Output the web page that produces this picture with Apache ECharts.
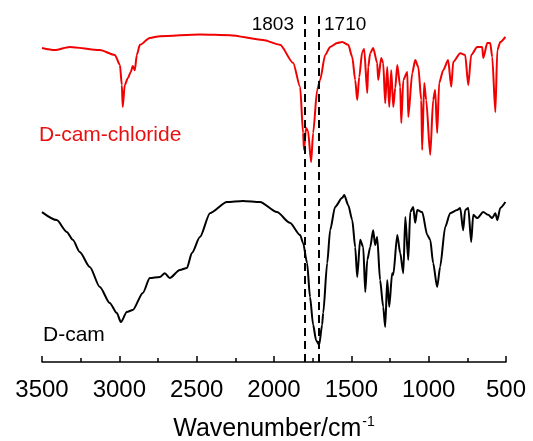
<!DOCTYPE html>
<html>
<head>
<meta charset="utf-8">
<script src="https://cdn.jsdelivr.net/npm/echarts@6/dist/echarts.min.js"></script>
<style>html,body{margin:0;padding:0;background:#fff}#c{width:533px;height:441px}</style>
</head>
<body>
<div id="c"></div>
<script>
// Wavenumber (cm^-1) and offset transmittance (arbitrary units)
var chlorideWn = [3500,3418,3321,3126,3029,2996,2984,2978,2965,2945,2926,2913,2900,2887,2867,2803,2738,2479,2285,2071,1961,1876,1831,1812,1806,1793,1780,1760,1747,1721,1702,1669,1637,1592,1559,1520,1494,1475,1462,1449,1430,1417,1397,1391,1378,1359,1333,1326,1307,1294,1281,1268,1255,1242,1229,1216,1203,1184,1177,1164,1138,1132,1106,1087,1067,1048,1042,1029,1016,990,971,958,945,932,906,874,854,841,796,764,744,725,686,654,647,621,602,589,569,556,537,504];
var chlorideT = [90.5,89.9,90.8,89.9,88.5,85.6,79.8,73.5,79.8,81.8,83.6,85.3,84.1,88.5,91.4,93.4,93.9,94.4,94.2,92.8,91.4,86.2,79.3,66.0,61.1,67.4,66.6,57.6,66.0,78.4,81.3,88.5,90.8,91.9,92.2,91.4,87.9,81.3,75.5,82.1,89.3,90.2,77.5,85.0,89.0,90.5,86.2,81.3,87.6,86.2,74.6,85.0,73.5,84.1,73.5,79.0,85.6,79.3,68.9,81.3,83.6,70.6,83.3,87.0,85.0,75.5,61.1,80.4,75.5,59.7,75.5,78.4,66.0,80.4,84.1,87.0,79.3,86.5,89.0,88.5,79.8,88.5,90.8,90.8,87.6,91.9,91.9,87.9,72.0,89.9,92.2,93.7];
var camWn = [3500,3405,3340,3301,3256,3191,3126,3062,3016,2990,2952,2913,2848,2803,2738,2706,2674,2609,2563,2531,2479,2414,2304,2201,2091,1981,1897,1831,1812,1786,1767,1747,1728,1708,1689,1682,1656,1637,1605,1559,1546,1520,1494,1475,1462,1443,1423,1410,1397,1378,1359,1346,1333,1314,1294,1281,1268,1255,1236,1229,1203,1184,1164,1151,1132,1119,1100,1087,1074,1042,1009,990,971,945,926,893,861,816,796,777,764,744,725,712,686,647,615,589,569,556,537,504];
var camT = [43.2,40.9,37.5,35.2,31.7,27.4,21.6,17.0,14.1,11.5,14.4,15.0,19.9,24.2,24.5,25.6,24.2,26.5,27.1,31.4,36.0,42.9,46.1,46.4,46.1,43.2,40.1,36.6,34.3,28.5,18.7,10.7,6.3,4.9,10.7,14.1,28.5,38.0,44.7,47.3,48.1,45.2,40.9,33.1,24.5,35.2,33.1,20.2,29.4,33.1,38.0,33.7,36.0,23.6,15.9,10.1,23.6,15.9,25.6,25.1,36.6,31.4,25.6,41.8,29.4,43.2,44.7,40.1,43.8,43.2,36.6,35.2,28.5,21.6,27.4,38.9,42.9,43.8,44.4,38.0,43.8,44.4,34.6,42.4,41.5,43.2,42.4,41.5,42.9,40.9,44.4,46.1];
var markWn = [1803, 1710];
var markLabels = ['1803', '1710'];
var seriesNames = ['D-cam-chloride', 'D-cam'];
var xTicks = [3500, 3000, 2500, 2000, 1500, 1000, 500];

function pairs(x, y) { return x.map(function (v, i) { return [v, y[i]]; }); }

var FONT = '"Liberation Sans", Arial, sans-serif';
var chart = echarts.init(document.getElementById('c'));
chart.setOption({
  animation: false,
  backgroundColor: '#fff',
  grid: { left: 42, right: 27, top: 15, bottom: 79, containLabel: false, outerBoundsMode: 'none' },
  xAxis: {
    type: 'value', inverse: true, min: 500, max: 3500, interval: 500,
    axisLine: { lineStyle: { color: '#000', width: 1.5 } },
    axisTick: { inside: true, length: 6, lineStyle: { color: '#000', width: 1.5 } },
    minorTick: { show: true, splitNumber: 2, length: 4, lineStyle: { color: '#000', width: 1.5 } },
    splitLine: { show: false },
    axisLabel: { color: '#000', fontSize: 24, fontFamily: FONT, margin: 16,
      formatter: function (v) { return xTicks.indexOf(v) >= 0 ? String(v) : ''; } },
    name: '{a|Wavenumber/cm}{b|-1}',
    nameLocation: 'middle', nameGap: 53,
    nameTextStyle: {
      rich: {
        a: { fontSize: 25, fontFamily: FONT, color: '#000', lineHeight: 28 },
        b: { fontSize: 14, fontFamily: FONT, color: '#000', verticalAlign: 'top', lineHeight: 28, padding: [0, 0, 14, 1] }
      }
    }
  },
  yAxis: { type: 'value', min: 0, max: 100, show: false },
  series: [
    { name: seriesNames[0], type: 'line', data: pairs(chlorideWn, chlorideT), showSymbol: false,
      smooth: 0.25, smoothMonotone: 'x',
      lineStyle: { color: '#f00000', width: 2 }, itemStyle: { color: '#f00000' } },
    { name: seriesNames[1], type: 'line', data: pairs(camWn, camT), showSymbol: false,
      smooth: 0.25, smoothMonotone: 'x',
      lineStyle: { color: '#000', width: 2 }, itemStyle: { color: '#000' },
      markLine: { silent: true, symbol: 'none', label: { show: false },
        lineStyle: { color: '#000', type: [8, 5], width: 2 },
        data: markWn.map(function (w) { return { xAxis: w }; }) } }
  ],
  graphic: [
    { type: 'text', left: 39, top: 125, style: { text: seriesNames[0], fill: '#e81010', font: '21px ' + FONT } },
    { type: 'text', left: 43, top: 325, style: { text: seriesNames[1], fill: '#000', font: '21px ' + FONT } },
    { type: 'text', right: 533 - 294, top: 15, style: { text: markLabels[0], fill: '#000', font: '19px ' + FONT } },
    { type: 'text', left: 324, top: 15, style: { text: markLabels[1], fill: '#000', font: '19px ' + FONT } }
  ]
});
</script>
</body>
</html>
